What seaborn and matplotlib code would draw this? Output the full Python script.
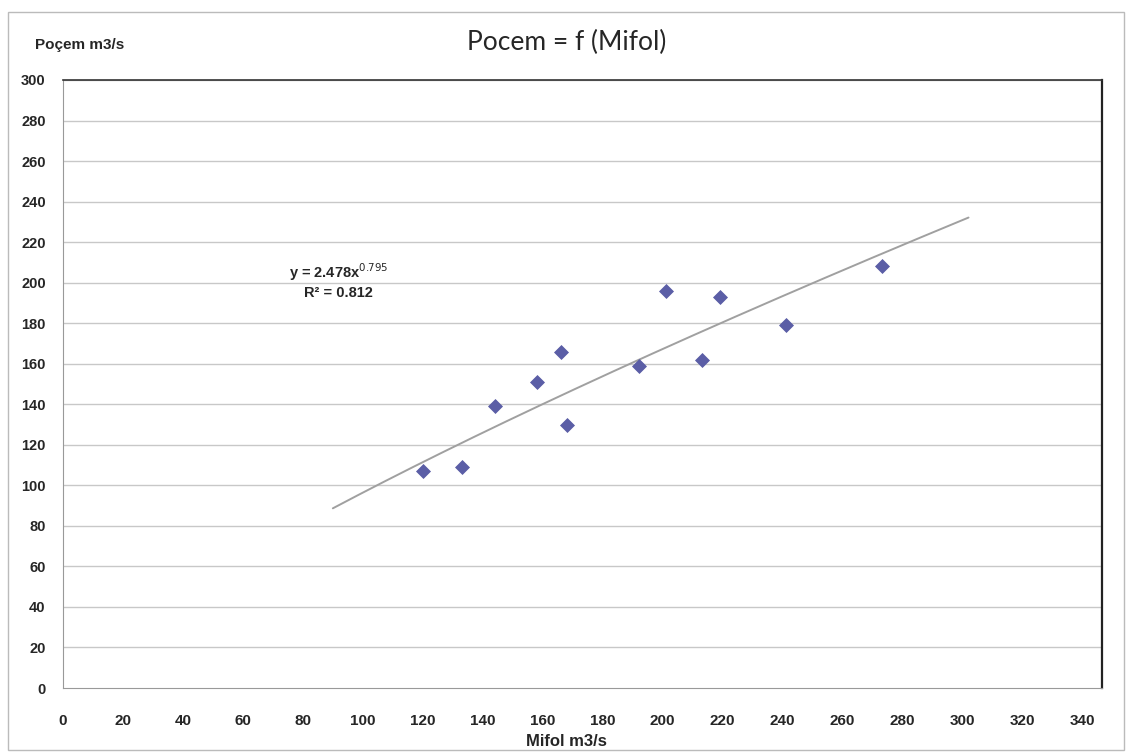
import numpy as np
import pandas as pd
import matplotlib
matplotlib.use("Agg")
import matplotlib.pyplot as plt
from matplotlib.patches import Rectangle
import seaborn as sns

# ── Datos ──────────────────────────────────────────────────────────
mifol = [120, 133, 144, 158, 166, 168, 192, 201, 213, 219, 241, 273]
pocem = [107, 109, 139, 151, 166, 130, 159, 196, 162, 193, 179, 208]

# línea de tendencia potencial y = a * x^b
coef_a = 2.478
coef_b = 0.795
r2 = 0.812
trend_x = [90, 302]

x_ticks = list(range(0, 341, 20))
y_ticks = list(range(0, 301, 20))

df = pd.DataFrame({"Mifol": mifol, "Pocem": pocem})
xt = np.linspace(trend_x[0], trend_x[1], 200)
tr = pd.DataFrame({"x": xt, "y": coef_a * xt ** coef_b})

# ── Estilo ─────────────────────────────────────────────────────────
sns.set_style("white")
plt.rcParams["font.family"] = ["Liberation Sans", "DejaVu Sans"]

fig = plt.figure(figsize=(11.33, 7.53), dpi=100)
ax = fig.add_axes([0.0556, 0.0863, 0.9170, 0.8075])

for y in y_ticks[1:]:
    ax.axhline(y, color="#c8c8c8", lw=1.0, zorder=0)

sns.lineplot(data=tr, x="x", y="y", ax=ax, color="#a0a0a0", lw=1.4, zorder=2)
sns.scatterplot(data=df, x="Mifol", y="Pocem", ax=ax, marker="D", s=50,
                color="#5b5ea6", edgecolor="#5b5ea6", zorder=3)

ax.set_xlim(0, 346.5)
ax.set_ylim(0, 300)
ax.set_xticks(x_ticks)
ax.set_yticks(y_ticks)
ax.set_xticklabels(x_ticks, fontsize=11, fontweight="bold")
ax.set_yticklabels(y_ticks, fontsize=10.5, fontweight="bold")
ax.tick_params(axis="x", direction="inout", length=5, width=0.8,
               color="#888888", pad=16)
ax.tick_params(axis="y", direction="inout", length=5, width=0.8,
               color="#888888", pad=10)
ax.set_xlabel("")
ax.set_ylabel("")

for side in ["left", "bottom"]:
    ax.spines[side].set_color("#999999")
ax.spines["top"].set_color("#333333")
ax.spines["top"].set_linewidth(1.2)
ax.spines["right"].set_color("#222222")
ax.spines["right"].set_linewidth(1.6)

# ecuación de la tendencia
ax.text(92, 205, f"y = {coef_a}x$^{{{coef_b}}}$", fontsize=10.5,
        fontweight="bold", ha="center", va="center")
ax.text(92, 195, f"R² = {r2}", fontsize=10.5, fontweight="bold",
        ha="center", va="center")

# ── Textos del marco ───────────────────────────────────────────────
fig.text(0.5, 0.944, "Pocem = f (Mifol)", ha="center", va="center",
         fontsize=19, family=["Lato", "DejaVu Sans"])
fig.text(0.031, 0.94, "Poçem m3/s", ha="left", va="center",
         fontsize=11, fontweight="bold")
fig.text(0.5, 0.015, "Mifol m3/s", ha="center", va="center",
         fontsize=12, fontweight="bold")

fig.patches.append(Rectangle((0.007, 0.004), 0.985, 0.98,
                             transform=fig.transFigure, fill=False,
                             edgecolor="#bbbbbb", lw=1.0))

fig.savefig("out.png", dpi=100, facecolor="white")
